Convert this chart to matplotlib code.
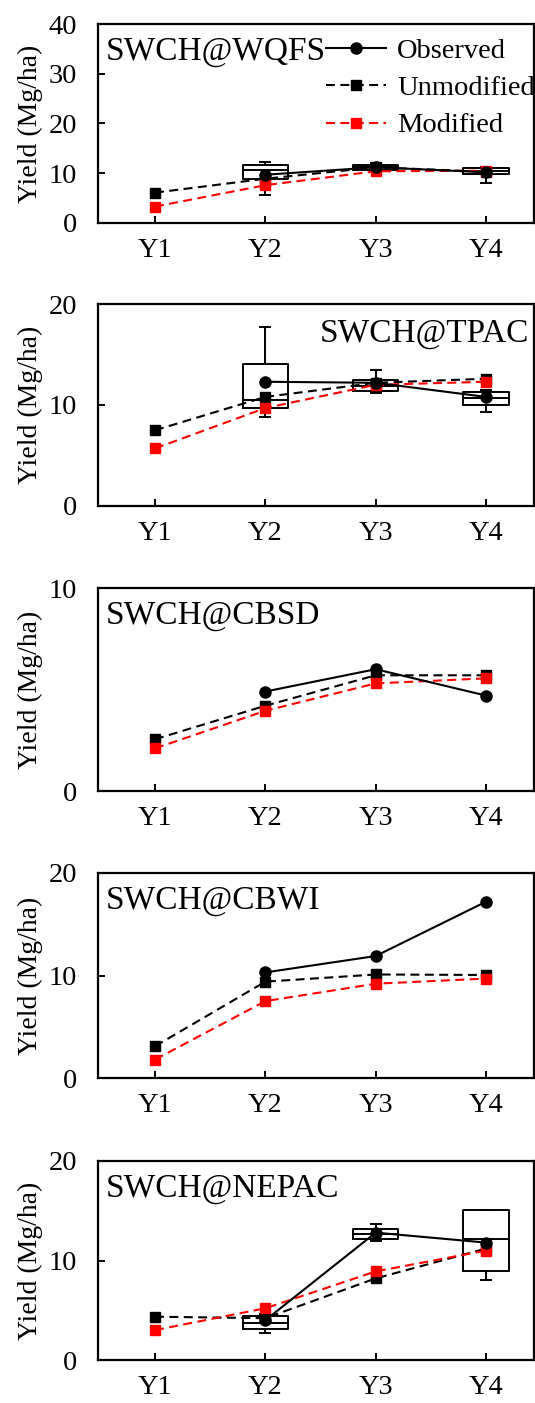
import numpy as np
import matplotlib
matplotlib.use('Agg')
import matplotlib.pyplot as plt

plt.rcParams['font.family'] = ['Liberation Serif', 'DejaVu Serif']

nan = np.nan
years = ['Y1', 'Y2', 'Y3', 'Y4']
sites = ['SWCH@WQFS', 'SWCH@TPAC', 'SWCH@CBSD', 'SWCH@CBWI', 'SWCH@NEPAC']
y_max = [40, 20, 10, 20, 20]
y_step = [10, 10, 10, 10, 10]

# series values (Mg/ha)
obs_wqfs = [nan, 9.7, 11.2, 10.2]
unmod_wqfs = [6.1, 8.9, 11.2, 10.3]
mod_wqfs = [3.3, 7.6, 10.4, 10.5]

obs_tpac = [nan, 12.3, 12.2, 10.8]
unmod_tpac = [7.5, 10.8, 12.2, 12.6]
mod_tpac = [5.7, 9.7, 12.0, 12.3]

obs_cbsd = [nan, 4.9, 6.0, 4.7]
unmod_cbsd = [2.55, 4.2, 5.7, 5.7]
mod_cbsd = [2.1, 3.95, 5.3, 5.55]

obs_cbwi = [nan, 10.3, 11.9, 17.2]
unmod_cbwi = [3.1, 9.4, 10.1, 10.05]
mod_cbwi = [1.8, 7.5, 9.2, 9.7]

obs_nepac = [nan, 4.0, 12.8, 11.8]
unmod_nepac = [4.35, 4.2, 8.2, 11.2]
mod_nepac = [3.0, 5.2, 8.9, 11.0]

# observed spread boxes
box_years = ['Y2', 'Y3', 'Y4']
wqfs_whislo = [5.6, 10.6, 8.1]
wqfs_q1 = [8.8, 10.7, 9.8]
wqfs_med = [10.6, 11.2, 10.4]
wqfs_q3 = [11.7, 11.7, 11.0]
wqfs_whishi = [12.3, 12.0, 11.2]

tpac_whislo = [8.8, 11.2, 9.3]
tpac_q1 = [9.7, 11.4, 10.0]
tpac_med = [10.5, 11.9, 10.7]
tpac_q3 = [14.1, 12.5, 11.3]
tpac_whishi = [17.7, 13.5, 11.5]

nepac_whislo = [2.7, 12.0, 8.0]
nepac_q1 = [3.1, 12.2, 8.9]
nepac_med = [3.75, 12.7, 12.2]
nepac_q3 = [4.4, 13.2, 15.1]
nepac_whishi = [4.6, 13.7, 15.1]

obs_all = [obs_wqfs, obs_tpac, obs_cbsd, obs_cbwi, obs_nepac]
unmod_all = [unmod_wqfs, unmod_tpac, unmod_cbsd, unmod_cbwi, unmod_nepac]
mod_all = [mod_wqfs, mod_tpac, mod_cbsd, mod_cbwi, mod_nepac]
boxes_all = [
    (wqfs_whislo, wqfs_q1, wqfs_med, wqfs_q3, wqfs_whishi),
    (tpac_whislo, tpac_q1, tpac_med, tpac_q3, tpac_whishi),
    None,
    None,
    (nepac_whislo, nepac_q1, nepac_med, nepac_q3, nepac_whishi),
]

W, H = 535, 1403
fig = plt.figure(figsize=(W / 100, H / 100), dpi=100)

left_px, right_px = 98, 534
panel_px = [(24, 223), (304, 506), (588, 791), (873, 1078), (1161, 1360)]

x = np.arange(1, len(years) + 1)
fs_tick = 20.5
fs_title = 24
lw_line = 1.5
dash = (4.3, 2.6)

for i, site in enumerate(sites):
    top, bot = panel_px[i]
    ax = fig.add_axes([left_px / W, 1 - bot / H, (right_px - left_px) / W, (bot - top) / H])
    ax.set_xlim(0.483, 4.435)
    ax.set_ylim(0, y_max[i])

    if boxes_all[i] is not None:
        lo, q1, md, q3, hi = boxes_all[i]
        stats = [dict(whislo=lo[k], q1=q1[k], med=md[k], q3=q3[k], whishi=hi[k], fliers=[])
                 for k in range(len(box_years))]
        pos = [years.index(b) + 1 for b in box_years]
        lp = dict(color='black', lw=1.4)
        ax.bxp(stats, positions=pos, widths=0.41, capwidths=0.09, showfliers=False,
               boxprops=lp, medianprops=lp, whiskerprops=lp, capprops=lp,
               manage_ticks=False, zorder=2)

    ax.plot(x, unmod_all[i], color='black', lw=lw_line, ls=(0, dash), marker='s',
            ms=7.5, label='Unmodified', zorder=3)
    ax.plot(x, mod_all[i], color='#ff0000', lw=lw_line, ls=(0, dash), marker='s',
            ms=7.5, label='Modified', zorder=4)
    ax.plot(x, obs_all[i], color='black', lw=lw_line, ls='-', marker='o',
            ms=8, label='Observed', zorder=5)

    ax.set_xticks(x)
    ax.set_xticklabels(years)
    ax.set_yticks(np.arange(0, y_max[i] + 0.1, y_step[i]))
    ax.tick_params(axis='x', direction='in', length=5, width=1.4, pad=11,
                   labelsize=fs_tick)
    ax.tick_params(axis='y', direction='in', length=5, width=1.4, pad=15,
                   labelsize=fs_tick)
    for s in ax.spines.values():
        s.set_linewidth(1.6)

    ax.set_ylabel('Yield (Mg/ha)', fontsize=20, va='center')
    ax.yaxis.set_label_coords((30 - left_px) / (right_px - left_px), 0.5)

    if i == 1:
        ax.annotate(site, xy=(1, 1), xycoords='axes fraction', xytext=(-5, -38),
                    textcoords='offset pixels', ha='right', va='baseline',
                    fontsize=fs_title)
    else:
        ax.annotate(site, xy=(0, 1), xycoords='axes fraction', xytext=(8, -36),
                    textcoords='offset pixels', ha='left', va='baseline',
                    fontsize=fs_title)

    if i == 0:
        h, l = ax.get_legend_handles_labels()
        order = [2, 0, 1]
        ax.legend([h[k] for k in order], [l[k] for k in order],
                  loc='upper left', bbox_to_anchor=((326 - left_px) / (right_px - left_px), 0.93),
                  frameon=False, fontsize=fs_tick, handlelength=2.1, handletextpad=0.4,
                  labelspacing=0.4, borderpad=0, borderaxespad=0)

fig.savefig('out.png', dpi=100)
